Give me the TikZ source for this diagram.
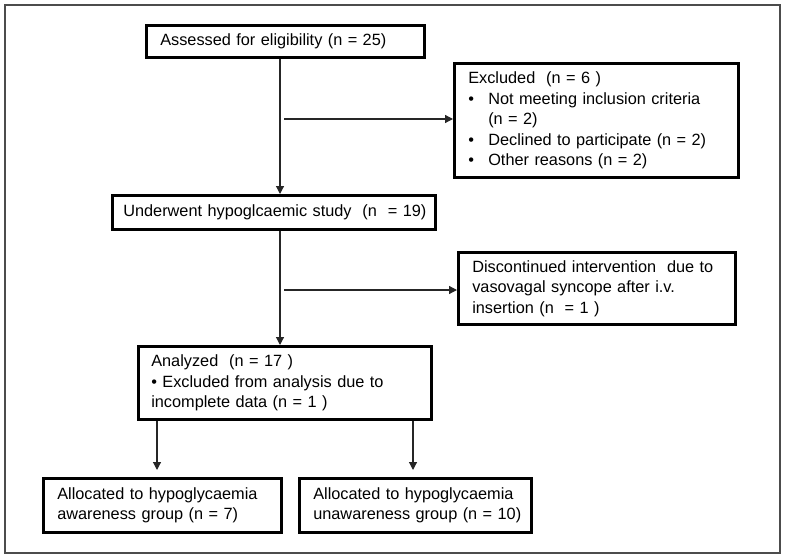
\documentclass[tikz,border=0pt]{standalone}
\usepackage{fontspec}
\setmainfont{Liberation Sans}
\usetikzlibrary{arrows.meta}
\usetikzlibrary{positioning}
\newcommand{\boxfont}{\fontsize{16.3}{20.5}\selectfont}
\newcommand{\blt}{\makebox[20pt][l]{\textbullet}}
\tikzset{box/.style = {draw, line width = 2.6pt, inner xsep = 14pt, inner ysep = 0pt,
                       align = left, anchor = north west, font = \boxfont}}
\tikzset{arr/.style = {draw = black!85, line width = 1.2pt,
                       -{Triangle[length = 8pt, width = 8pt]}}}
\tikzset{frame/.style = {draw = black!70, line width = 1.3pt}}

\begin{document}
\begin{tikzpicture}[x = 1pt, y = -1pt]
      \useasboundingbox (0, 0) rectangle (786, 559);
      \draw [frame] (5, 5) rectangle (780, 553);

      \node [box, text width = 250pt, minimum height = 32pt] (assess) at (145, 24)
            {Assessed for eligibility (n = 25)};
      \node [box, text width = 256pt, minimum height = 114pt] (excl) at (453, 62)
            {Excluded\ \ (n = 6 )\\
             \blt Not meeting inclusion criteria\\
             \hspace*{20pt}(n = 2)\\
             \blt Declined to participate (n = 2)\\
             \blt Other reasons (n = 2)};
      \node [box, text width = 315pt, minimum height = 34pt, inner xsep = 4pt] (study) at (111, 194)
            {\hspace*{7pt}Underwent hypoglcaemic study\ \ (n\ \ = 19)};
      \node [box, text width = 249pt, minimum height = 72pt] (disc) at (457, 251)
            {Discontinued intervention\ \ due to\\
             vasovagal syncope after i.v.\\
             insertion (n\ \ = 1 )};
      \node [box, text width = 267pt, minimum height = 73pt, inner xsep = 13pt] (anal) at (137, 345)
            {Analyzed\ \ (n = 17 )\\
             \textbullet{} Excluded from analysis due to\\
             incomplete data (n = 1 )};
      \node [box, text width = 210pt, minimum height = 54pt] (aware) at (42, 477)
            {Allocated to hypoglycaemia\\
             awareness group (n = 7)};
      \node [box, text width = 224pt, minimum height = 54pt, inner xsep = 4pt] (unaware) at (298, 477)
            {\hspace*{10pt}Allocated to hypoglycaemia\\
             \hspace*{10pt}unawareness group (n = 10)};

      % trunk and side branches
      \coordinate (spine) at (280, 0);
      \coordinate (b1) at (284, 119);
      \coordinate (b2) at (284, 290);
      \draw [arr] (assess.south -| spine) -- (study.north -| spine);
      \draw [arr] (b1) -- (b1 -| excl.west);
      \draw [arr] (study.south -| spine) -- (anal.north -| spine);
      \draw [arr] (b2) -- (b2 -| disc.west);

      % split into groups
      \coordinate (g1) at (157, 0);
      \coordinate (g2) at (413, 0);
      \draw [arr, shorten > = 7pt] (anal.south -| g1) -- (aware.north -| g1);
      \draw [arr, shorten > = 7pt] (anal.south -| g2) -- (unaware.north -| g2);
    \end{tikzpicture}
\end{document}
